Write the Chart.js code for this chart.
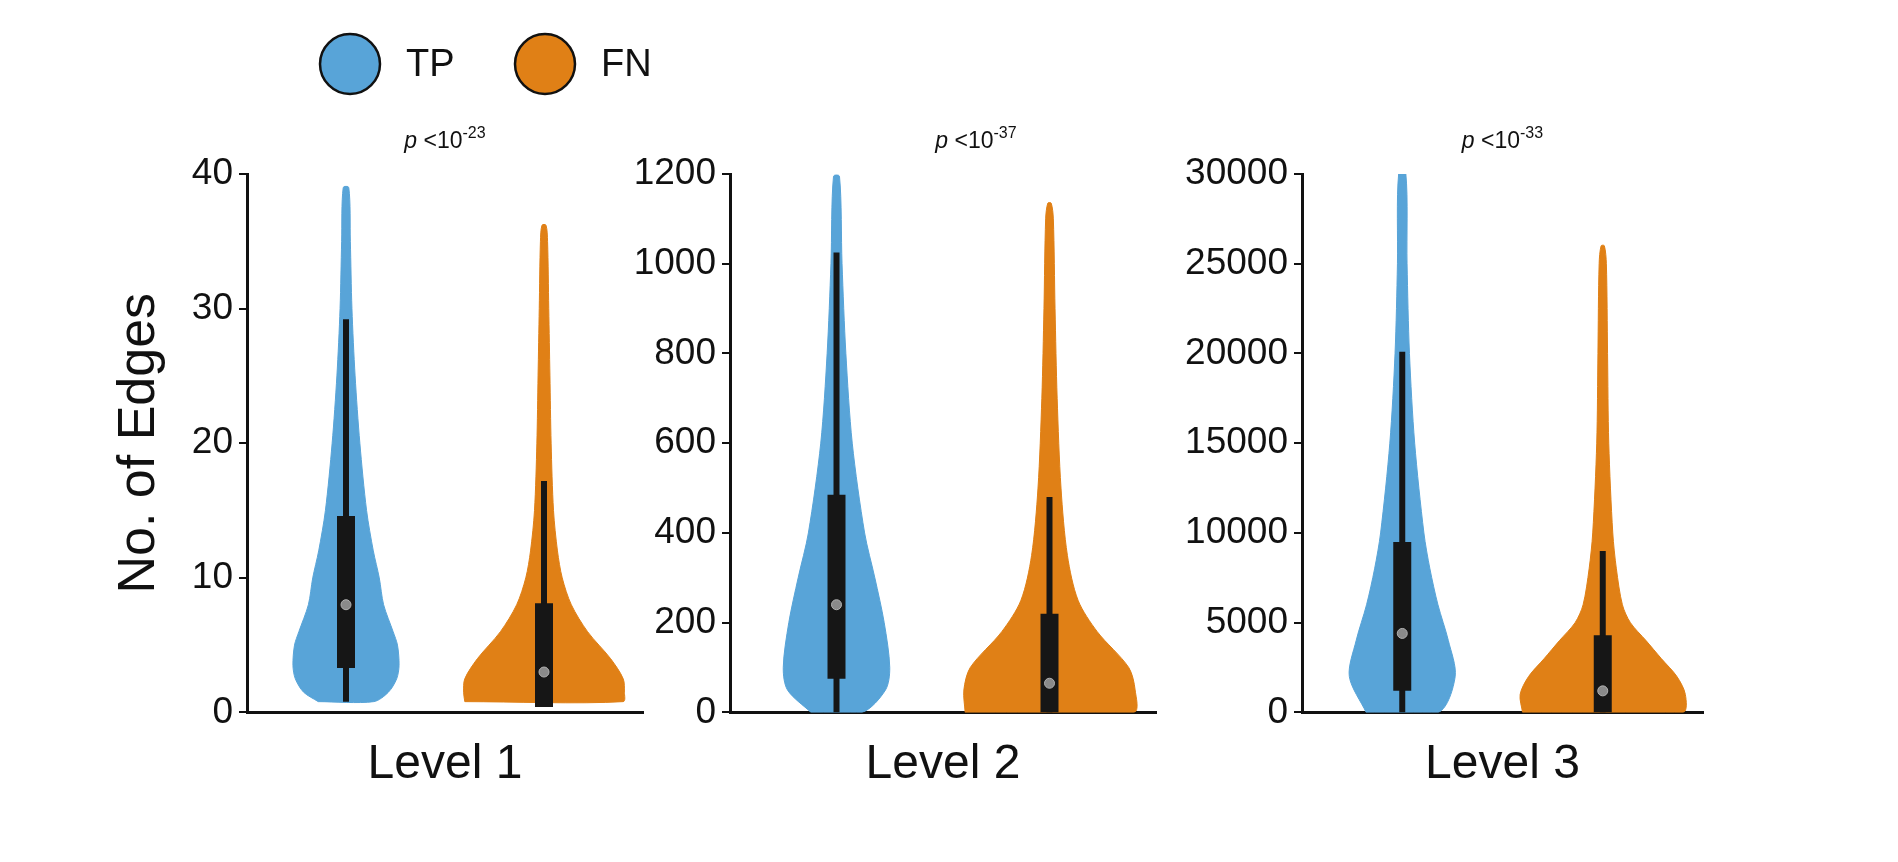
<!DOCTYPE html>
<html>
<head>
<meta charset="utf-8">
<script src="https://cdn.jsdelivr.net/npm/chart.js@4.4.1/dist/chart.umd.min.js"></script>
<style>
  html, body { margin: 0; padding: 0; background: #fff; }
  #wrap { position: relative; width: 1898px; height: 862px; overflow: hidden; }
  canvas { position: absolute; top: 0; }
</style>
</head>
<body>
<div id="wrap">
  <canvas id="c1" style="left:0px"></canvas>
  <canvas id="c2" style="left:600px"></canvas>
  <canvas id="c3" style="left:1160px"></canvas>
</div>
<script>
// ---- data ----
const levels = ["Level 1", "Level 2", "Level 3"];
const pExponents = ["-23", "-37", "-33"];
const yMax = [40, 1200, 30000];
const yStep = [10, 200, 5000];

// violin outlines: y values and half widths (x axis runs 0..1 per panel)
const tp1Y = [0.8, 1.5, 2.5, 3.5, 5, 6, 8, 10, 12, 15, 20, 25, 30, 35, 39];
const tp1W = [0.07, 0.107, 0.128, 0.134, 0.13, 0.119, 0.095, 0.084, 0.069, 0.052, 0.035, 0.023, 0.015, 0.011, 0.007];
const fn1Y = [0.8, 1.5, 2.5, 4, 6, 8, 10, 12, 15, 20, 25, 30, 35, 36.2];
const fn1W = [0.2, 0.203, 0.2, 0.168, 0.11, 0.069, 0.046, 0.034, 0.024, 0.018, 0.015, 0.012, 0.009, 0.005];

const tp2Y = [0, 50, 100, 200, 300, 400, 600, 800, 1000, 1195];
const tp2W = [0.06, 0.115, 0.125, 0.112, 0.09, 0.066, 0.037, 0.022, 0.013, 0.007];
const fn2Y = [0, 50, 100, 180, 250, 350, 500, 700, 900, 1100, 1135];
const fn2W = [0.198, 0.201, 0.186, 0.112, 0.067, 0.042, 0.027, 0.018, 0.013, 0.009, 0.004];

const tp3Y = [0, 2000, 4000, 6000, 8000, 10000, 15000, 20000, 25000, 30000];
const tp3W = [0.09, 0.132, 0.115, 0.089, 0.069, 0.054, 0.031, 0.018, 0.012, 0.009];
const fn3Y = [0, 1000, 2000, 3000, 4000, 5000, 6000, 8000, 10000, 15000, 20000, 25000, 26000];
const fn3W = [0.2, 0.206, 0.185, 0.146, 0.108, 0.069, 0.049, 0.034, 0.025, 0.015, 0.012, 0.009, 0.004];

// box stats: [whiskerLow, q1, median, q3, whiskerHigh]
const tpStats = [[0.8, 3.3, 8, 14.6, 29.2], [0, 75, 240, 485, 1025], [0, 1200, 4400, 9500, 20100]];
const fnStats = [[0.4, 0.4, 3, 8.1, 17.2], [0, 0, 65, 220, 480], [0, 0, 1200, 4300, 9000]];

const series = ["TP", "FN"];
const colors = ["#58A4D8", "#E08016"];
const centers = [0.25, 0.75];

const violinY = [[tp1Y, fn1Y], [tp2Y, fn2Y], [tp3Y, fn3Y]];
const violinW = [[tp1W, fn1W], [tp2W, fn2W], [tp3W, fn3W]];

const FONT = "'Liberation Sans', Arial, sans-serif";

function outline(cx, ys, ws) {
    const pts = [];
    for (let i = 0; i < ys.length; i++) pts.push({ x: cx - ws[i], y: ys[i] });
    for (let i = ys.length - 1; i >= 0; i--) pts.push({ x: cx + ws[i], y: ys[i] });
    pts.push(pts[0]);
    return pts;
}

function buildDatasets(p) {
    const sets = [];
    const stats = [tpStats[p], fnStats[p]];
    for (let s = 0; s < 2; s++) {
        const cx = centers[s];
        const st = stats[s];
        sets.push({
            label: series[s], data: outline(cx, violinY[p][s], violinW[p][s]),
            showLine: true, fill: 'shape', backgroundColor: colors[s], borderColor: colors[s],
            borderWidth: 1, pointRadius: 0, tension: 0.3, order: 3
        });
        sets.push({
            label: "whisker", data: [{ x: cx, y: st[0] }, { x: cx, y: st[4] }],
            showLine: true, borderColor: "#161616", borderWidth: 6, pointRadius: 0, order: 2
        });
        sets.push({
            label: "box", data: [{ x: cx, y: st[1] }, { x: cx, y: st[3] }],
            showLine: true, borderColor: "#161616", borderWidth: 18, pointRadius: 0, order: 1
        });
        sets.push({
            label: "median", data: [{ x: cx, y: st[2] }],
            pointRadius: 5, backgroundColor: "#8a8a8a", borderColor: "#b0b0b0", borderWidth: 1, order: 0
        });
    }
    return sets;
}

// p-value label with superscript
const pLabel = {
    id: 'pLabel',
    afterDraw(chart, args, opts) {
        const ctx = chart.ctx;
        const a = chart.chartArea;
        const cx = (a.left + a.right) / 2 + (opts.dx || 0);
        const y = 148;
        ctx.save();
        ctx.fillStyle = "#111";
        ctx.textBaseline = "alphabetic";
        const f1 = "italic 23px " + FONT, f2 = "23px " + FONT, f3 = "16px " + FONT;
        ctx.font = f1; const w1 = ctx.measureText("p ").width;
        ctx.font = f2; const w2 = ctx.measureText("<10").width;
        ctx.font = f3; const w3 = ctx.measureText(opts.exp).width;
        let x = cx - (w1 + w2 + w3) / 2;
        ctx.font = f1; ctx.fillText("p ", x, y); x += w1;
        ctx.font = f2; ctx.fillText("<10", x, y); x += w2;
        ctx.font = f3; ctx.fillText(opts.exp, x, y - 10);
        ctx.restore();
    }
};

// circle legend on the first panel
const circleLegend = {
    id: 'circleLegend',
    afterDraw(chart, args, opts) {
        if (!opts.show) return;
        const ctx = chart.ctx;
        const xs = [350, 545];
        ctx.save();
        for (let s = 0; s < 2; s++) {
            ctx.beginPath();
            ctx.arc(xs[s], 64, 30, 0, Math.PI * 2);
            ctx.fillStyle = colors[s];
            ctx.fill();
            ctx.lineWidth = 2.5;
            ctx.strokeStyle = "#111";
            ctx.stroke();
            ctx.fillStyle = "#111";
            ctx.font = "38px " + FONT;
            ctx.textBaseline = "middle";
            ctx.fillText(series[s], xs[s] + 56, 66);
        }
        ctx.restore();
    }
};

function makeChart(id, p, width, yWidth, padRight, pDx) {
    const canvas = document.getElementById(id);
    canvas.width = width; canvas.height = 862;
    canvas.style.width = width + "px"; canvas.style.height = "862px";
    return new Chart(canvas.getContext('2d'), {
        type: 'scatter',
        data: { datasets: buildDatasets(p) },
        plugins: [pLabel, circleLegend],
        options: {
            responsive: false, animation: false,
            layout: { padding: { top: 174, bottom: 68, right: padRight, left: 0 } },
            plugins: {
                legend: { display: false }, tooltip: { enabled: false },
                pLabel: { exp: pExponents[p], dx: pDx },
                circleLegend: { show: p === 0 }
            },
            scales: {
                x: {
                    type: 'linear', min: 0, max: 1,
                    ticks: { display: false },
                    grid: { display: false, drawTicks: false },
                    border: { color: "#111", width: 3 },
                    title: { display: true, text: levels[p], color: "#111", font: { family: FONT, size: 48 }, padding: { top: 24, bottom: 0 } }
                },
                y: {
                    min: 0, max: yMax[p],
                    ticks: { stepSize: yStep[p], color: "#111", font: { family: FONT, size: 37 }, padding: 6,
                             callback: v => String(v) },
                    grid: { drawOnChartArea: false, drawTicks: true, tickLength: 8, color: "#111", lineWidth: 2 },
                    border: { color: "#111", width: 3 },
                    title: { display: p === 0, text: "No. of Edges", color: "#111", font: { family: FONT, size: 52 }, padding: { top: 108 } },
                    afterFit(scale) { scale.width = yWidth; }
                }
            }
        }
    });
}

makeChart("c1", 0, 700, 247, 57, 0);
makeChart("c2", 1, 600, 130, 44, 33);
makeChart("c3", 2, 600, 142, 57, 0);
</script>
</body>
</html>
